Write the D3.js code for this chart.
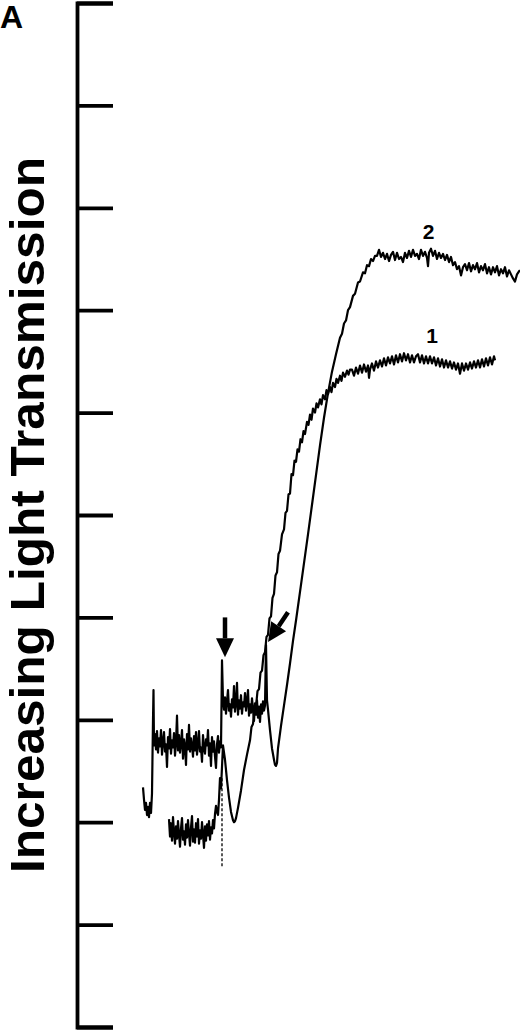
<!DOCTYPE html>
<html>
<head>
<meta charset="utf-8">
<script src="https://cdn.jsdelivr.net/npm/d3@7"></script>
<style>
  body { margin: 0; background: #fff; }
  svg { display: block; }
  .trace { fill: none; stroke: #000; stroke-width: 2.2; stroke-linejoin: round; }
  .axis path, .axis line { stroke: #000; stroke-width: 3.8; }
  text { font-family: "Liberation Sans", Arial, Helvetica, sans-serif; font-weight: bold; fill: #000; }
</style>
</head>
<body>
<svg id="chart" width="520" height="1031"></svg>
<script>
// transmission ticks (0-100, no labels on the original)
const yTicks = [0, 10, 20, 30, 40, 50, 60, 70, 80, 90, 100];

// trace 1: [time, transmission]
const trace1 = [
  [92, 20.3], [93, 18.6], [94, 19.9], [95, 18.2], [96, 20.5], [97, 19.0], [98, 17.9], [99, 19.6],
  [100, 18.4], [101, 20.1], [102, 18.8], [103, 17.6], [104, 19.4], [105, 20.4], [106, 18.3], [107, 19.1],
  [108, 17.8], [109, 19.8], [110, 18.5], [111, 20.2], [112, 18.9], [113, 17.7], [114, 19.5], [115, 20.6],
  [116, 18.1], [117, 19.3], [118, 18.0], [119, 19.9], [120, 18.6], [121, 20.3], [122, 17.9], [123, 19.2],
  [124, 18.4], [125, 20.0], [126, 18.8], [127, 17.5], [128, 19.6], [129, 18.2], [130, 19.8], [131, 18.7],
  [132, 20.1], [133, 18.3], [134, 19.5], [135, 18.9], [136, 20.2], [137, 19.4], [138, 20.8], [139, 21.6],
  [140, 21.0], [141, 20.7], [142, 22.2], [143, 24.3], [144, 23.3], [146, 27.5], [148, 26.1], [150, 24.1],
  [152, 22.4], [154, 21.0], [156, 20.2], [157, 20.0], [158, 20.1], [159, 20.4], [161, 21.4], [164, 23.1],
  [167, 25.1], [170, 26.6], [173, 28.0], [174.5, 29.3], [176, 29.6], [177.5, 31.0], [179, 31.3], [180.5, 32.8],
  [182, 33.0], [183.5, 34.6], [185, 34.8], [186.5, 36.3], [188, 36.6], [189.5, 38.1], [191, 38.3], [192.5, 39.9],
  [194, 40.1], [195.5, 41.9], [197, 42.3], [198.5, 44.1], [200, 44.4], [201.5, 46.2], [203, 46.5], [205, 48.1],
  [207, 48.6], [208.5, 50.2], [210, 50.4], [211.5, 52.0], [213, 52.1], [214.5, 54.0], [216, 53.9], [217.5, 55.3],
  [219, 55.2], [220.5, 56.4], [222, 56.2], [223.5, 57.4], [225, 57.1], [226.5, 58.2], [228, 57.9], [230, 59.1],
  [231.5, 58.8], [233, 59.8], [234.5, 59.3], [236, 60.4], [238, 60.0], [239.5, 60.9], [241, 60.5], [243, 61.3],
  [244.5, 60.8], [246, 61.7], [248, 61.3], [249.5, 62.2], [251, 61.8], [253, 62.5], [254.5, 62.0], [256, 62.9],
  [258, 62.5], [259.5, 63.3], [261, 62.9], [263, 63.6], [264.5, 63.1], [266, 63.9], [268, 63.5], [270, 64.1],
  [271.5, 63.7], [273, 64.2], [275, 64.2], [277, 63.6], [279, 64.4], [281, 63.8], [283, 64.6], [285, 63.9],
  [287, 64.7], [289, 64.0], [291, 64.6], [292, 63.4], [293, 64.2], [295, 64.8], [297, 64.1], [299, 65.0],
  [301, 64.4], [303, 65.1], [305, 64.5], [307, 65.3], [309, 64.6], [311, 65.4], [313, 64.8], [315, 65.5],
  [317, 64.7], [319, 65.6], [321, 64.9], [323, 65.7], [325, 65.0], [327, 65.8], [329, 65.1], [331, 65.7],
  [333, 64.9], [335, 65.6], [337, 64.9], [339, 65.5], [341, 65.7], [343, 64.9], [345, 65.6], [347, 64.8],
  [349, 65.5], [351, 64.8], [353, 65.5], [355, 64.8], [357, 65.4], [359, 64.6], [361, 65.3], [363, 64.5],
  [365, 65.2], [367, 64.4], [369, 65.1], [371, 64.4], [373, 65.0], [375, 64.3], [377, 64.9], [379, 64.2],
  [381, 64.8], [383, 63.8], [385, 64.8], [387, 64.1], [389, 64.8], [391, 64.2], [393, 64.9], [395, 64.3],
  [397, 65.0], [399, 64.4], [401, 65.1], [403, 64.4], [405, 65.2], [407, 64.5], [409, 65.3], [411, 64.6],
  [413, 65.4], [415, 64.7], [417, 65.5], [418, 65.1]
];

// trace 2: [time, transmission]
const trace2 = [
  [66, 23.4], [67, 22.2], [68, 21.2], [69, 21.9], [70, 20.7], [71, 21.5], [72, 20.5], [73, 21.9],
  [74, 20.9], [75, 22.8], [76, 30.0], [76.5, 32.9], [77, 27.5], [78, 28.6], [79, 27.1], [80, 28.9],
  [81, 26.8], [82, 28.2], [83, 27.4], [84, 29.0], [85, 26.6], [86, 27.9], [87, 28.8], [88, 26.9],
  [89, 27.6], [90, 25.4], [91, 28.3], [92, 27.2], [93, 29.1], [94, 26.7], [95, 28.0], [96, 27.3],
  [97, 28.7], [98, 26.5], [99, 27.8], [100, 30.4], [101, 27.0], [102, 28.5], [103, 26.8], [104, 27.7],
  [105, 29.0], [106, 26.2], [107, 28.1], [108, 27.4], [109, 25.6], [110, 28.6], [111, 27.1], [112, 29.5],
  [113, 26.9], [114, 28.2], [115, 27.5], [116, 26.4], [117, 28.4], [118, 27.0], [119, 28.8], [120, 26.6],
  [121, 27.6], [122, 28.9], [123, 26.9], [124, 27.3], [125, 25.9], [126, 28.5], [127, 27.2], [128, 26.7],
  [129, 28.1], [130, 27.5], [131, 29.0], [132, 26.5], [133, 27.7], [134, 25.5], [135, 28.3], [136, 26.9],
  [137, 27.9], [138, 26.4], [139, 25.3], [140, 27.6], [141, 28.4], [142, 26.8], [143, 27.9], [144, 27.3],
  [145, 35.8], [146, 31.9], [147, 31.0], [148, 32.2], [149, 30.6], [150, 31.8], [151, 32.9], [152, 30.9],
  [153, 31.5], [154, 30.3], [155, 32.0], [156, 31.2], [157, 33.3], [158, 30.8], [159, 31.6], [160, 33.6],
  [161, 30.5], [162, 31.9], [163, 31.1], [164, 32.4], [165, 30.6], [166, 31.7], [167, 31.3], [168, 32.6],
  [169, 30.9], [170, 31.8], [171, 32.9], [172, 30.4], [173, 31.5], [174, 30.7], [175, 32.1], [176, 31.0],
  [177, 29.9], [178, 31.6], [179, 30.5], [180, 31.9], [181, 30.2], [182, 31.3], [183, 29.8], [184, 31.5],
  [185, 30.6], [186, 31.8], [187, 30.9], [188, 31.4], [189, 37.3], [190, 31.9], [191, 31.0], [193, 29.0],
  [195, 27.2], [197, 26.1], [198, 25.6], [199, 25.5], [200, 25.8], [201, 27.2], [204, 29.4], [207, 31.4],
  [210, 33.4], [213, 35.5], [216, 37.7], [219, 39.7], [223, 42.5], [227, 45.3], [231, 48.1], [235, 51.0],
  [239, 53.9], [243, 56.8], [247, 59.5], [251, 61.9], [255, 64.0], [259, 65.7], [263, 67.3], [265, 67.7],
  [267, 68.7], [269, 69.0], [271, 70.0], [273, 70.3], [276, 71.4], [278, 71.6], [281, 72.7], [283, 72.8],
  [286, 73.7], [288, 73.6], [290, 74.4], [292, 74.3], [294, 75.0], [296, 74.8], [298, 75.3], [300, 75.3],
  [302, 75.9], [304, 75.2], [306, 75.6], [308, 75.0], [310, 75.5], [312, 74.8], [314, 75.4], [316, 75.7],
  [318, 74.9], [320, 75.6], [322, 75.0], [324, 75.2], [326, 74.7], [328, 75.6], [330, 75.1], [332, 75.8],
  [334, 75.2], [336, 75.9], [338, 75.3], [340, 75.5], [342, 75.0], [344, 75.9], [346, 75.3], [348, 75.7],
  [350, 75.1], [351, 74.3], [352, 75.6], [354, 76.0], [356, 75.3], [358, 75.8], [360, 75.0], [362, 75.6],
  [364, 75.1], [366, 75.5], [368, 74.9], [370, 75.4], [372, 74.7], [374, 75.2], [376, 74.4], [378, 74.7],
  [380, 74.0], [382, 74.3], [384, 73.4], [386, 74.2], [388, 74.5], [390, 73.9], [392, 74.6], [394, 73.8],
  [396, 74.4], [398, 74.0], [400, 74.6], [402, 73.7], [404, 74.3], [406, 73.9], [408, 74.5], [410, 73.6],
  [412, 74.2], [414, 73.5], [416, 74.2], [418, 73.7], [420, 74.3], [422, 73.4], [424, 74.0], [426, 73.6],
  [428, 74.2], [430, 73.3], [432, 73.9], [434, 73.5], [436, 73.1], [438, 72.8], [440, 73.5], [442, 73.8],
  [443, 73.9]
];

// curve labels: [name, time, transmission]
const curveLabels = [["2", 351.5, 77.0], ["1", 355, 66.8]];

// addition arrows: [fromTime, fromValue, toTime, toValue]
const additionArrows = [[148, 40.0, 148, 36.1], [211, 40.5, 191, 37.6]];

// thin dotted pen stroke at the first addition: [time, fromValue, toValue]
const penMark = [145, 24.3, 15.5];

const svg = d3.select("#chart");
const x = d3.scaleLinear().domain([0, 443]).range([77, 520]);
const y = d3.scaleLinear().domain([0, 100]).range([1027, 3]);

svg.append("rect").attr("width", 520).attr("height", 1031).attr("fill", "#fff");

svg.append("g")
  .attr("class", "axis")
  .attr("transform", "translate(" + x(0) + ",0)")
  .call(d3.axisRight(y).tickValues(yTicks).tickSize(36).tickSizeOuter(36).tickFormat(""));

svg.append("text")
  .attr("transform", "translate(43.5," + (y(0) + y(100)) / 2 + ") rotate(-90)")
  .attr("text-anchor", "middle")
  .attr("font-size", 48)
  .attr("textLength", 716)
  .attr("lengthAdjust", "spacingAndGlyphs")
  .text("Increasing Light Transmission");

svg.append("text")
  .attr("x", 0)
  .attr("y", 28)
  .attr("font-size", 32)
  .text("A");

const line = d3.line()
  .x(function (d) { return x(d[0]); })
  .y(function (d) { return y(d[1]); });

[trace1, trace2].forEach(function (t) {
  svg.append("path").attr("class", "trace").attr("d", line(t));
});

svg.append("line")
  .attr("x1", x(penMark[0])).attr("x2", x(penMark[0]))
  .attr("y1", y(penMark[1])).attr("y2", y(penMark[2]))
  .attr("stroke", "#000")
  .attr("stroke-width", 1.3)
  .attr("stroke-dasharray", "3,2");

svg.selectAll(".lbl")
  .data(curveLabels)
  .enter()
  .append("text")
  .attr("class", "lbl")
  .attr("x", function (d) { return x(d[1]); })
  .attr("y", function (d) { return y(d[2]); })
  .attr("text-anchor", "middle")
  .attr("font-size", 21)
  .text(function (d) { return d[0]; });

// arrows: shaft + filled head
additionArrows.forEach(function (a) {
  const x0 = x(a[0]), y0 = y(a[1]), x1 = x(a[2]), y1 = y(a[3]);
  const ang = Math.atan2(y1 - y0, x1 - x0);
  const headLen = 19, headW = 9;
  const bx = x1 - headLen * Math.cos(ang), by = y1 - headLen * Math.sin(ang);
  svg.append("line")
    .attr("x1", x0).attr("y1", y0).attr("x2", bx).attr("y2", by)
    .attr("stroke", "#000").attr("stroke-width", 4.5);
  const px = -Math.sin(ang) * headW, py = Math.cos(ang) * headW;
  svg.append("path")
    .attr("d", "M" + x1 + "," + y1 + "L" + (bx + px) + "," + (by + py) + "L" + (bx - px) + "," + (by - py) + "Z")
    .attr("fill", "#000");
});
</script>
</body>
</html>
